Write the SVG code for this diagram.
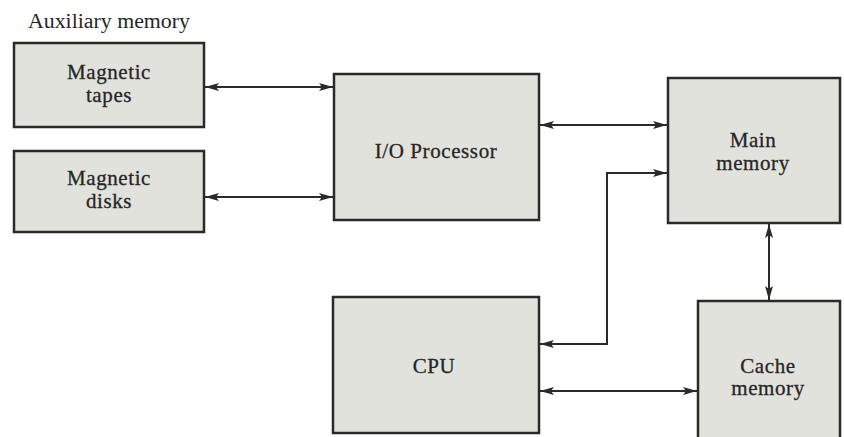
<svg xmlns="http://www.w3.org/2000/svg" width="844" height="437" viewBox="0 0 844 437">
<defs>
<marker id="ah" viewBox="0 0 14 8" refX="14" refY="4" markerWidth="14" markerHeight="8" markerUnits="userSpaceOnUse" orient="auto-start-reverse">
<path d="M0,0 L14,4 L0,8 L3,4 Z" fill="#2a2a2a"/>
</marker>
</defs>
<style>
.box{fill:#e2e2dd;stroke:#2a2a2a;stroke-width:2.5}
.t{font-family:"Liberation Serif","Times New Roman",serif;font-size:21px;letter-spacing:0.6px;fill:#262626;stroke:#262626;stroke-width:0.3;text-anchor:middle}
.c{fill:none;stroke:#2a2a2a;stroke-width:2}
</style>
<rect width="844" height="437" fill="#ffffff"/>
<text x="28" y="28" style="font-family:'Liberation Serif','Times New Roman',serif;font-size:20px;fill:#262626" textLength="162" lengthAdjust="spacingAndGlyphs">Auxiliary memory</text>
<g id="tapes">
<rect class="box" x="14" y="43" width="190" height="84"/>
<text class="t" x="109" y="79">Magnetic</text>
<text class="t" x="109" y="102">tapes</text>
</g>
<g id="disks">
<rect class="box" x="14" y="151" width="190" height="81"/>
<text class="t" x="109" y="185">Magnetic</text>
<text class="t" x="109" y="208">disks</text>
</g>
<g id="io">
<rect class="box" x="334" y="74" width="205" height="146"/>
<text class="t" x="436" y="158">I/O Processor</text>
</g>
<g id="main">
<rect class="box" x="668" y="78" width="172" height="145"/>
<text class="t" x="753" y="147">Main</text>
<text class="t" x="753" y="170">memory</text>
</g>
<g id="cpu">
<rect class="box" x="333" y="297" width="206" height="136"/>
<text class="t" x="434" y="373">CPU</text>
</g>
<g id="cache">
<rect class="box" x="698" y="301" width="142" height="140"/>
<text class="t" x="768" y="373">Cache</text>
<text class="t" x="768" y="395">memory</text>
</g>
<g id="connectors">
<line class="c" x1="205" y1="87" x2="333" y2="87" marker-start="url(#ah)" marker-end="url(#ah)"/>
<line class="c" x1="205" y1="197" x2="333" y2="197" marker-start="url(#ah)" marker-end="url(#ah)"/>
<line class="c" x1="540" y1="125" x2="667" y2="125" marker-start="url(#ah)" marker-end="url(#ah)"/>
<polyline class="c" points="540,344 607,344 607,173 667,173" marker-start="url(#ah)" marker-end="url(#ah)"/>
<line class="c" x1="769" y1="224" x2="769" y2="300" marker-start="url(#ah)" marker-end="url(#ah)"/>
<line class="c" x1="540" y1="391" x2="697" y2="391" marker-start="url(#ah)" marker-end="url(#ah)"/>
</g>
</svg>
